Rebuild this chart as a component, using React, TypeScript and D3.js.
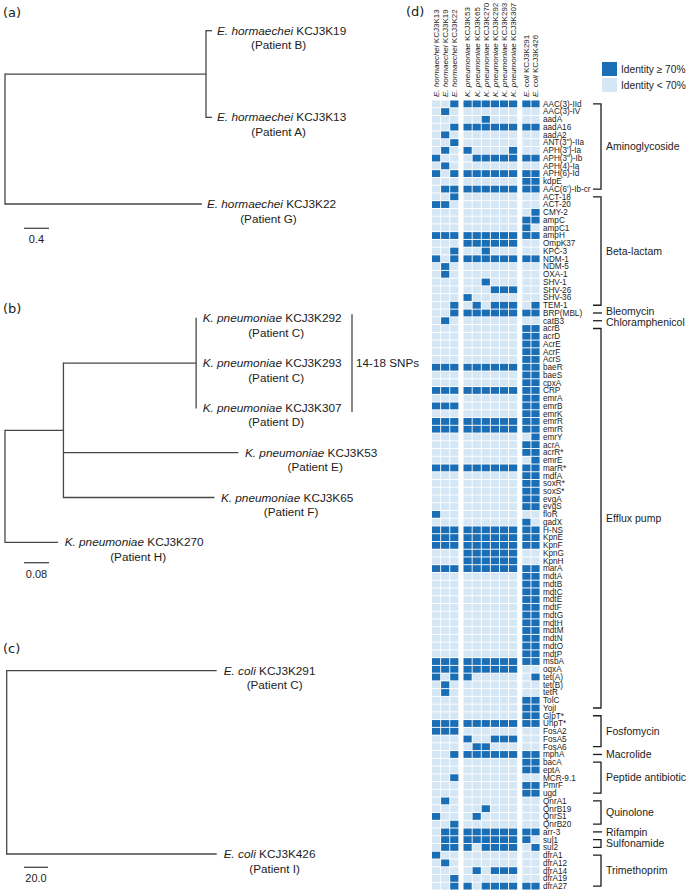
import React, { useEffect, useRef } from 'react';
import * as d3 from 'd3';

// ---------- Heatmap data ----------
const strains = ['KCJ3K13', 'KCJ3K19', 'KCJ3K22', 'KCJ3K53', 'KCJ3K65', 'KCJ3K270', 'KCJ3K292', 'KCJ3K293', 'KCJ3K307', 'KCJ3K291', 'KCJ3K426'];
const strainSpecies = ['E. hormaechei', 'E. hormaechei', 'E. hormaechei', 'K. pneumoniae', 'K. pneumoniae', 'K. pneumoniae', 'K. pneumoniae', 'K. pneumoniae', 'K. pneumoniae', 'E. coli', 'E. coli'];
const strainGroup = [0, 0, 0, 1, 1, 1, 1, 1, 1, 2, 2];

const genes = [
  'AAC(3)-IId', 'AAC(3)-IV', 'aadA', 'aadA16', 'aadA2', 'ANT(3")-IIa', "APH(3')-Ia", 'APH(3")-Ib', 'APH(4)-Ia', 'APH(6)-Id', 'kdpE', "AAC(6')-Ib-cr",
  'ACT-18', 'ACT-20', 'CMY-2', 'ampC', 'ampC1', 'ampH', 'OmpK37', 'KPC-3', 'NDM-1', 'NDM-5', 'OXA-1', 'SHV-1', 'SHV-26', 'SHV-36', 'TEM-1',
  'BRP(MBL)',
  'catB3',
  'acrB', 'acrD', 'AcrE', 'AcrF', 'AcrS', 'baeR', 'baeS', 'cpxA', 'CRP', 'emrA', 'emrB', 'emrK', 'emrR', 'emrR', 'emrY', 'acrA', 'acrR*', 'emrE', 'marR*', 'mdfA', 'soxR*', 'soxS*', 'evgA', 'evgS', 'floR', 'gadX', 'H-NS', 'KpnE', 'KpnF', 'KpnG', 'KpnH', 'marA', 'mdtA', 'mdtB', 'mdtC', 'mdtE', 'mdtF', 'mdtG', 'mdtH', 'mdtM', 'mdtN', 'mdtO', 'mdtP', 'msbA', 'oqxA', 'tet(A)', 'tet(B)', 'tetR', 'TolC', 'YojI',
  'GlpT*', 'UhpT*', 'FosA2', 'FosA5', 'FosA6',
  'mphA',
  'bacA', 'eptA', 'MCR-9.1', 'PmrF', 'ugd',
  'QnrA1', 'QnrB19', 'QnrS1', 'QnrB20',
  'arr-3',
  'sul1', 'sul2',
  'dfrA1', 'dfrA12', 'dfrA14', 'dfrA19', 'dfrA27',
];

// 1 = identity >= 70%, 0 = identity < 70%; column order follows `strains`
const presence = [
  '00111111111', '01000000000', '00000100000', '00111111111', '01000000000', '00100000000', '01010000100', '10001111111', '01000000000', '10111111111', '00000000011', '01111111111',
  '00100000000', '11000000000', '00000000001', '00000000011', '00000000010', '11111111111', '00011111100', '00100100000', '10111111111', '01000000000', '01000000000', '00000100000', '00000011100', '00010000000', '00101011101',
  '00111111111',
  '01000000000',
  '00000000011', '00000000011', '00000000011', '00000000011', '00000000011', '11111111111', '00000000011', '00000000011', '11111111111', '00000000011', '11100000011', '00000000011', '11111111111', '11111111111', '00000000001', '00000000011', '00000000011', '00000000001', '11111111111', '00000000011', '00000000011', '00000000011', '00000000011', '00000000011', '10000000000', '00000000010', '11111111111', '11111111111', '11111111111', '00011111100', '00011111100', '11111111111', '00000000011', '00000000011', '00000000011', '00000000011', '00000000011', '00000000011', '00000000011', '00000000011', '00000000011', '00000000011', '00000000011', '11111111111', '11111111100', '10110000001', '01000000000', '01000000000', '00000000011', '00000000011',
  '00000000011', '11111111111', '11100000000', '00010011100', '00001100000',
  '00111111111',
  '00000000011', '00000000011', '00100000000', '00000000011', '00000000011',
  '01000000000', '00000100000', '10001000000', '00100000000',
  '01111111111',
  '01111111110', '01110111101',
  '10000000000', '01000000000', '00001011100', '00100000000', '00110111111',
];

const classNames = ['Aminoglycoside', 'Beta-lactam', 'Bleomycin', 'Chloramphenicol', 'Efflux pump', 'Fosfomycin', 'Macrolide', 'Peptide antibiotic', 'Quinolone', 'Rifampin', 'Sulfonamide', 'Trimethoprim'];
const classSizes = [12, 15, 1, 1, 50, 5, 1, 5, 4, 1, 2, 5];

const legendLabels = ['Identity \u2265 70%', 'Identity < 70%'];

// ---------- Tree data (branch lengths) ----------
type TNode = { species?: string; strain?: string; patient?: string; length: number; children?: TNode[] };

const treeA: TNode = {
  length: 0,
  children: [
    {
      length: 3.216,
      children: [
        { species: 'E. hormaechei', strain: 'KCJ3K19', patient: 'B', length: 0.096 },
        { species: 'E. hormaechei', strain: 'KCJ3K13', patient: 'A', length: 0.096 },
      ],
    },
    { species: 'E. hormaechei', strain: 'KCJ3K22', patient: 'G', length: 3.15 },
  ],
};
const treeAScale = 0.4;

const treeB: TNode = {
  length: 0,
  children: [
    {
      length: 0.187,
      children: [
        {
          length: 0.4246,
          children: [
            { species: 'K. pneumoniae', strain: 'KCJ3K292', patient: 'C', length: 0 },
            { species: 'K. pneumoniae', strain: 'KCJ3K293', patient: 'C', length: 0 },
            { species: 'K. pneumoniae', strain: 'KCJ3K307', patient: 'D', length: 0 },
          ],
        },
        { species: 'K. pneumoniae', strain: 'KCJ3K53', patient: 'E', length: 0.56 },
        { species: 'K. pneumoniae', strain: 'KCJ3K65', patient: 'F', length: 0.483 },
      ],
    },
    { species: 'K. pneumoniae', strain: 'KCJ3K270', patient: 'H', length: 0.17 },
  ],
};
const treeBScale = 0.08;
const snpLabel = '14-18 SNPs';

const treeC: TNode = {
  length: 0,
  children: [
    { species: 'E. coli', strain: 'KCJ3K291', patient: 'C', length: 175 },
    { species: 'E. coli', strain: 'KCJ3K426', patient: 'I', length: 175 },
  ],
};
const treeCScale = 20;

const SANS = '"Liberation Sans", Arial, sans-serif';
const DARK = '#1a6eb6';
const LIGHT = '#d5e6f5';
const LINE = '#474747';
const TEXT = '#1c1c1c';

function drawTree(
  g: any,
  data: TNode,
  o: { x0: number; pxPerUnit: number; yTop: number; yBottom: number; scaleValue: number; scaleLabel: string; scaleY: number; labelGap: number; patientShift: number }
) {
  const root: any = d3.hierarchy<TNode>(data, (d) => d.children);
  const leaves = root.leaves();
  const yScale = d3.scalePoint<number>().domain(d3.range(leaves.length)).range([o.yTop, o.yBottom]);
  const xs = d3.scaleLinear().domain([0, 1]).range([o.x0, o.x0 + o.pxPerUnit]);
  root.eachBefore((n: any) => {
    n.dist = n.parent ? n.parent.dist + n.data.length : 0;
  });
  leaves.forEach((l: any, i: number) => (l.yy = yScale(i)));
  root.eachAfter((n: any) => {
    if (n.children) n.yy = (n.children[0].yy + n.children[n.children.length - 1].yy) / 2;
  });
  const lineG = g.append('g').attr('stroke', LINE).attr('stroke-width', 1.3).attr('fill', 'none');
  root.descendants().forEach((n: any) => {
    if (n.parent && n.data.length > 0) {
      lineG.append('line').attr('x1', xs(n.parent.dist)).attr('x2', xs(n.dist)).attr('y1', n.yy).attr('y2', n.yy);
    }
    if (n.children) {
      const c0 = n.children[0];
      const c1 = n.children[n.children.length - 1];
      lineG.append('line').attr('x1', xs(n.dist)).attr('x2', xs(n.dist)).attr('y1', c0.yy - 0.65).attr('y2', c1.yy + 0.65);
    }
  });
  leaves.forEach((l: any) => {
    const x = xs(l.dist) + o.labelGap;
    const t = g
      .append('text')
      .attr('x', x)
      .attr('y', l.yy)
      .attr('dy', '0.35em')
      .attr('font-family', SANS)
      .attr('font-size', 11.8)
      .attr('fill', TEXT);
    t.append('tspan').attr('font-style', 'italic').text(l.data.species);
    t.append('tspan').text(' ' + l.data.strain);
    const w = (t.node() as SVGTextElement).getComputedTextLength();
    g.append('text')
      .attr('x', x + w / 2 + o.patientShift)
      .attr('y', l.yy + 14.5)
      .attr('dy', '0.35em')
      .attr('text-anchor', 'middle')
      .attr('font-family', SANS)
      .attr('font-size', 11.7)
      .attr('fill', TEXT)
      .text(`(Patient ${l.data.patient})`);
  });
  // scale bar
  const sb = d3.scaleLinear().domain([0, o.scaleValue]).range([24, 24 + o.scaleValue * o.pxPerUnit]);
  g.append('line')
    .attr('x1', sb(0))
    .attr('x2', sb(o.scaleValue))
    .attr('y1', o.scaleY)
    .attr('y2', o.scaleY)
    .attr('stroke', LINE)
    .attr('stroke-width', 1.3);
  g.append('text')
    .attr('x', (sb(0) + sb(o.scaleValue)) / 2)
    .attr('y', o.scaleY + 11)
    .attr('dy', '0.35em')
    .attr('text-anchor', 'middle')
    .attr('font-family', SANS)
    .attr('font-size', 11)
    .attr('fill', TEXT)
    .text(o.scaleLabel);
  return { root, leaves };
}

export default function App() {
  const ref = useRef<SVGSVGElement>(null);
  useEffect(() => {
    const svg = d3.select(ref.current as SVGSVGElement);
    svg.selectAll('*').remove();
    const g: any = svg.append('g');

    // panel letters
    const letters: [string, number, number][] = [
      ['(a)', 3, 12.5],
      ['(b)', 3, 308.5],
      ['(c)', 3, 648],
      ['(d)', 406, 11.5],
    ];
    letters.forEach(([s, x, y]) =>
      g.append('text').attr('x', x).attr('y', y).attr('dy', '0.35em').attr('font-family', '"DejaVu Sans", sans-serif').attr('font-size', 13).attr('fill', TEXT).text(s)
    );

    // trees
    drawTree(g, treeA, { x0: 5, pxPerUnit: 25 / treeAScale, yTop: 30.7, yBottom: 204, scaleValue: treeAScale, scaleLabel: '0.4', scaleY: 228.3, labelGap: 5, patientShift: -3 });
    const b = drawTree(g, treeB, { x0: 5, pxPerUnit: 25 / treeBScale, yTop: 318.3, yBottom: 542.3, scaleValue: treeBScale, scaleLabel: '0.08', scaleY: 562.7, labelGap: 6.5, patientShift: 4 });
    drawTree(g, treeC, { x0: 6.7, pxPerUnit: 24 / treeCScale, yTop: 670.7, yBottom: 854, scaleValue: treeCScale, scaleLabel: '20.0', scaleY: 867.3, labelGap: 7, patientShift: 5 });

    // SNP bracket for the clade of three
    const clade = b.leaves.slice(0, 3);
    const cy0 = clade[0].yy - 4;
    const cy1 = clade[2].yy + 4;
    g.append('line').attr('x1', 352).attr('x2', 352).attr('y1', cy0).attr('y2', cy1).attr('stroke', LINE).attr('stroke-width', 1.3);
    g.append('text')
      .attr('x', 356)
      .attr('y', clade[1].yy)
      .attr('dy', '0.35em')
      .attr('font-family', SANS)
      .attr('font-size', 11.7)
      .attr('fill', TEXT)
      .text(snpLabel);

    // ---------- heatmap ----------
    const step = 9.1;
    const groupGap = 4.2;
    const cellW = 8.2;
    const xCol = (i: number) => 432 + i * step + strainGroup[i] * groupGap;
    const yRow = d3.scaleBand<number>().domain(d3.range(genes.length)).range([100, 890]).paddingInner(0.12).paddingOuter(0.06);
    const bh = yRow.bandwidth();

    const cells: { r: number; c: number; v: number }[] = [];
    presence.forEach((row, r) => row.split('').forEach((ch, c) => cells.push({ r, c, v: +ch })));
    const color = d3.scaleOrdinal<number, string>().domain([1, 0]).range([DARK, LIGHT]);
    g.append('g')
      .selectAll('rect')
      .data(cells)
      .join('rect')
      .attr('x', (d: any) => xCol(d.c))
      .attr('y', (d: any) => yRow(d.r) as number)
      .attr('width', cellW)
      .attr('height', bh)
      .attr('fill', (d: any) => color(d.v));

    // gene labels
    g.append('g')
      .selectAll('text')
      .data(genes)
      .join('text')
      .attr('x', 543)
      .attr('y', (_: any, i: number) => (yRow(i) as number) + bh / 2)
      .attr('dy', '0.35em')
      .attr('font-family', SANS)
      .attr('font-size', 8.2)
      .attr('fill', TEXT)
      .text((d: string) => d);

    // column headers (read bottom to top, species at the bottom)
    strains.forEach((s, i) => {
      const cx = xCol(i) + cellW / 2;
      const t = g
        .append('text')
        .attr('transform', `translate(${cx},97) rotate(-90)`)
        .attr('dy', '0.35em')
        .attr('text-anchor', 'start')
        .attr('font-family', SANS)
        .attr('font-size', 8)
        .attr('fill', TEXT);
      t.append('tspan').attr('font-style', 'italic').text(strainSpecies[i]);
      t.append('tspan').text((strainSpecies[i] === 'E. coli' ? ' ' : '  ') + s);
    });

    // class brackets
    let start = 0;
    const bg = g.append('g');
    const labelPos: { name: string; y: number }[] = [];
    classNames.forEach((name, k) => {
      const n = classSizes[k];
      const top = (yRow(start) as number) + bh / 2;
      const bot = (yRow(start + n - 1) as number) + bh / 2;
      if (n === 1) {
        bg.append('line').attr('x1', 593).attr('x2', 602).attr('y1', top).attr('y2', top).attr('stroke', TEXT).attr('stroke-width', 1.3);
      } else {
        bg.append('path')
          .attr('d', `M593,${top}H601V${bot}H593`)
          .attr('fill', 'none')
          .attr('stroke', TEXT)
          .attr('stroke-width', 1.3);
      }
      labelPos.push({ name, y: (top + bot) / 2 });
      start += n;
    });
    // spread neighbouring labels that would touch
    const minGap = 11.5;
    for (let i = 1; i < labelPos.length; i++) {
      const gap = labelPos[i].y - labelPos[i - 1].y;
      if (gap < minGap) {
        const d = (minGap - gap) / 2;
        labelPos[i - 1].y -= d;
        labelPos[i].y += d;
      }
    }
    labelPos.forEach((p) =>
      bg.append('text')
        .attr('x', 606)
        .attr('y', p.y)
        .attr('dy', '0.35em')
        .attr('font-family', SANS)
        .attr('font-size', 10.5)
        .attr('fill', TEXT)
        .text(p.name)
    );

    // legend
    const lg = g.append('g');
    legendLabels.forEach((lab, i) => {
      lg.append('rect').attr('x', 602).attr('y', 62 + i * 16).attr('width', 15).attr('height', 14).attr('fill', i === 0 ? DARK : LIGHT);
      lg.append('text')
        .attr('x', 621)
        .attr('y', 69 + i * 16)
        .attr('dy', '0.35em')
        .attr('font-family', SANS)
        .attr('font-size', 10.2)
        .attr('fill', TEXT)
        .text(lab);
    });
  }, []);

  return <svg ref={ref} width={698} height={894} style={{ position: 'absolute', left: 0, top: 0, background: '#fff' }} />;
}
